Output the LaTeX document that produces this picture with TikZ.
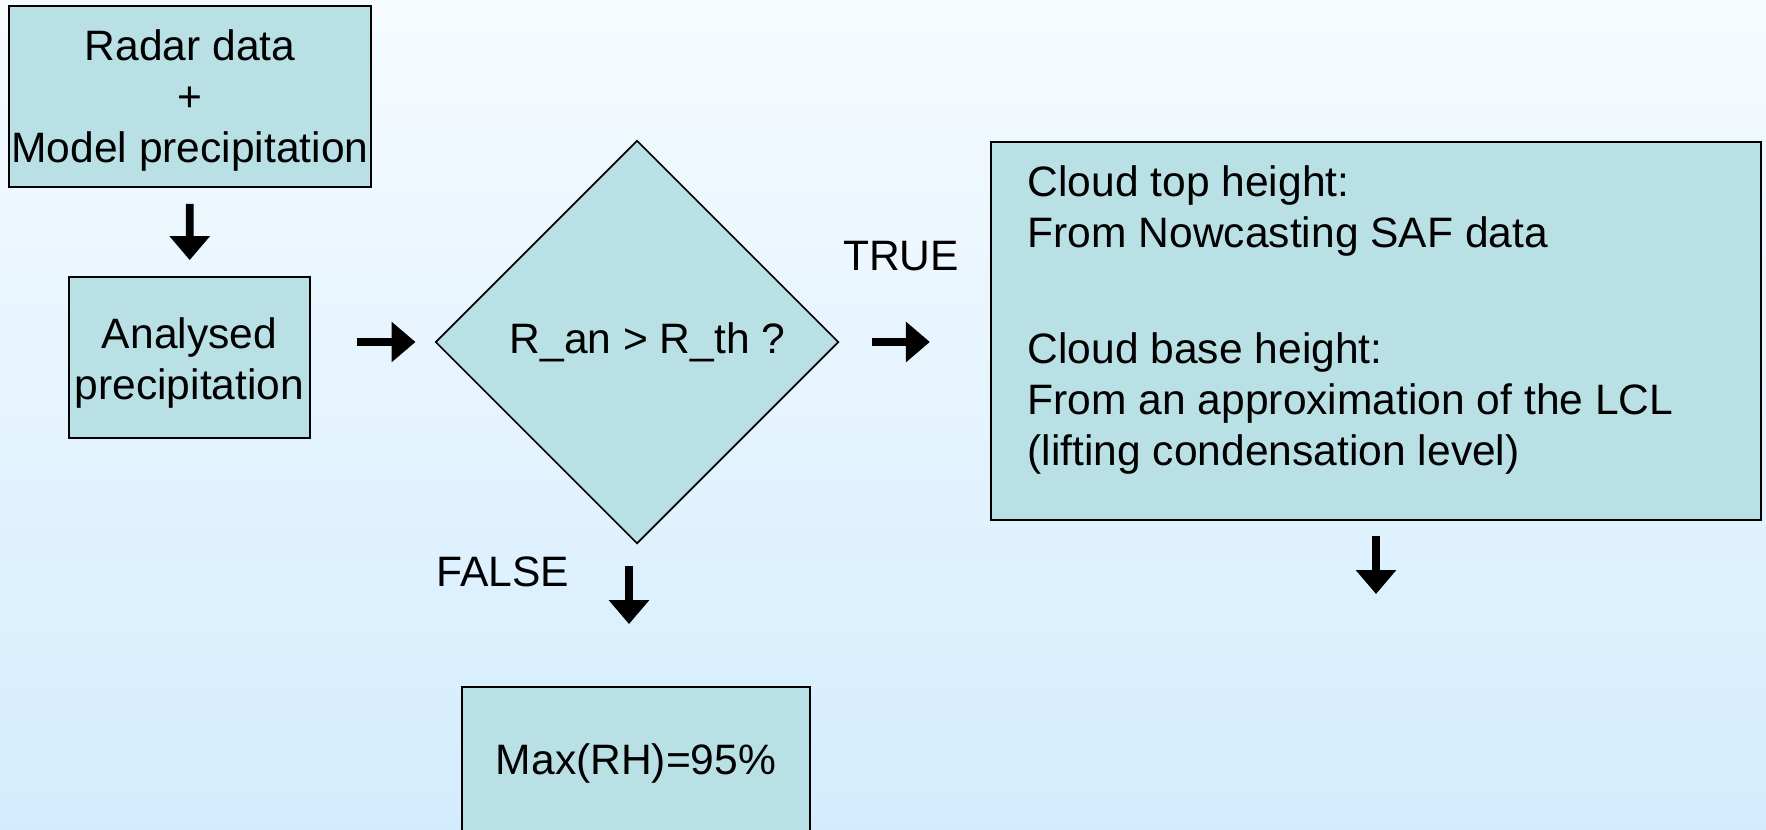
\documentclass[tikz,border=0pt]{standalone}
\usepackage{fontspec}
\setmainfont{Liberation Sans}
\usetikzlibrary{shapes.geometric,arrows.meta}
\definecolor{bgtop}{RGB}{246,251,255}
\definecolor{bgbot}{RGB}{211,236,253}
\definecolor{boxfill}{RGB}{185,224,228}

\begin{document}
\begin{tikzpicture}[x=0.01cm,y=-0.01cm,
        every node/.style={font=\fontsize{12.1}{14.4}\selectfont},
        box/.style={draw,line width=0.5pt,fill=boxfill,inner sep=0pt,align=center},
        pfeil/.style={line width=2.2pt,-{Triangle[length=6.8pt,width=11.1pt]}}]
        \shade[top color=bgtop,bottom color=bgbot] (0,0) rectangle (1766,830);
        \useasboundingbox (0,0) rectangle (1766,830);
        \clip (0,0) rectangle (1766,830);
        \node[box,minimum width=3.62cm,minimum height=1.81cm] (radar) at (190,96.5) {\rule{0pt}{11pt}Radar data\\+\\Model precipitation};
        \node[box,minimum width=2.41cm,minimum height=1.61cm] (anal) at (189.5,357.5) {\rule{0pt}{12pt}Analysed\\precipitation};
        \node[box,diamond,minimum width=4.03cm,minimum height=4.03cm] (dec) at (637,342) {\hspace*{6pt}R\_an > R\_th ?};
        \node[box,minimum width=7.7cm,minimum height=3.78cm] (cloud) at (1376,331) {};
        \node[anchor=north west,inner sep=0pt,align=left] (cloudtxt) at (1027,165) {Cloud top height:\\From Nowcasting SAF data\\[18.8pt]Cloud base height:\\From an approximation of the LCL\\(lifting condensation level)};
        \node[box,minimum width=3.48cm,minimum height=1.52cm] (maxrh) at (636,763) {Max(RH)=95\%};
        \node (true) at (901,256) {TRUE};
        \node (false) at (503,572) {FALSE};
        \coordinate (weiter) at (1376,594);
        \draw[pfeil,shorten <=0.16cm,shorten >=0.16cm] (radar) -- (anal);
        \draw[pfeil,shorten <=0.46cm,shorten >=0.19cm] (anal.east |- dec) -- (dec);
        \draw[pfeil,shorten <=0.32cm,shorten >=0.6cm] (dec) -- (dec -| cloud.west);
        \draw[pfeil,shorten <=0.21cm,shorten >=0.62cm] ([xshift=-0.08cm]dec.south) -- ([xshift=-0.08cm]dec.south |- maxrh.north);
        \draw[pfeil,shorten <=0.15cm] (cloud) -- (weiter);
    \end{tikzpicture}
\end{document}
